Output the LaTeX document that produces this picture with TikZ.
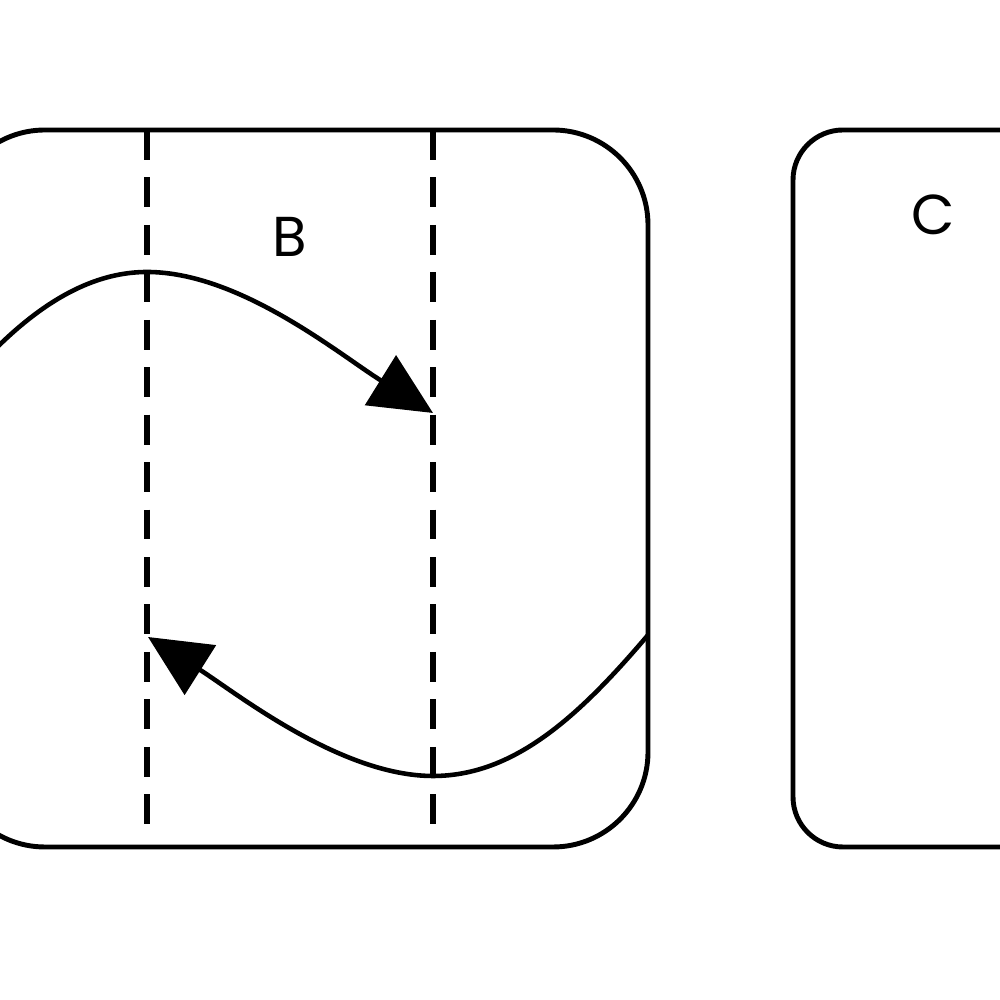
\documentclass[tikz,border=0pt]{standalone}
\usepackage{fontspec}
\setmainfont{Poppins}
\usepackage{tikz}
\usetikzlibrary{arrows.meta, positioning}
\tikzset{
  panel/.style={draw=black, line width=1.4pt},
  divider/.style={draw=black, line width=1.6pt, dash pattern=on 8.5pt off 5pt},
  flow/.style={-{Triangle[length=0.62cm, width=0.58cm]}, line width=1.3pt, color=black},
  lbl/.style={font=\fontsize{16}{18}\selectfont, inner sep=0pt}
}

\begin{document}
\begin{tikzpicture}
  \useasboundingbox (0,0) rectangle (10,10);
  \clip (0,0) rectangle (10,10);

  % panels
  \draw[panel, rounded corners=0.95cm] (-0.5,1.53) rectangle (6.48,8.70);
  \draw[panel, rounded corners=0.5cm] (7.93,1.53) rectangle (11.6,8.70);
  \node[lbl] (labB) at (2.9,7.63) {B};
  \node[lbl] (labC) at (9.33,7.85) {C};

  % dividers
  \draw[divider] (1.47,8.70) -- (1.47,1.70);
  \draw[divider] (4.33,8.70) -- (4.33,1.70);

  % curves
  \coordinate (startA) at (-0.5,6.0);
  \coordinate (peak) at (1.47,7.28);
  \coordinate (tipA) at (4.33,5.87);
  \coordinate (startB) at (6.48,3.65);
  \coordinate (trough) at (4.33,2.24);
  \coordinate (tipB) at (1.48,3.63);
  \draw[flow] (startA) .. controls (0.1,6.75) and (0.75,7.28) .. (peak)
    .. controls (2.4,7.28) and (3.4,6.45) .. (tipA);
  \draw[flow] (startB) .. controls (5.8,2.85) and (5.15,2.24) .. (trough)
    .. controls (3.4,2.24) and (2.35,3.08) .. (tipB);
\end{tikzpicture}
\end{document}
